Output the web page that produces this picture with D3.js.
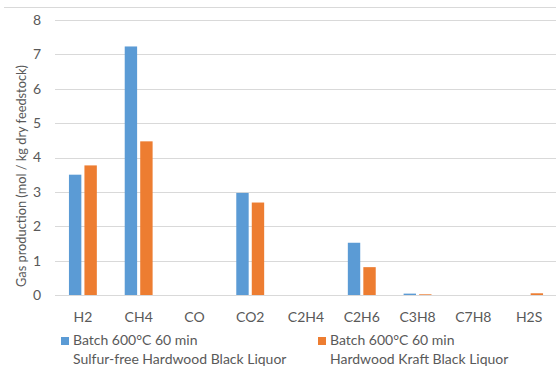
<!DOCTYPE html>
<html><head><meta charset="utf-8">
<script src="https://cdn.jsdelivr.net/npm/d3@7"></script>
<style>body{margin:0;background:#fff}svg{display:block;font-family:Lato,"Open Sans",sans-serif}</style>
</head><body><svg id="c" width="556" height="369"></svg>
<script>
const categories = ["H2","CH4","CO","CO2","C2H4","C2H6","C3H8","C7H8","H2S"];
const seriesNames = ["Batch 600°C 60 min|Sulfur-free Hardwood Black Liquor","Batch 600°C 60 min|Hardwood Kraft Black Liquor"];
const sulfurFree = [3.5, 7.23, 0, 2.97, 0, 1.52, 0.04, 0, 0];
const kraft = [3.77, 4.47, 0, 2.69, 0, 0.81, 0.02, 0, 0.05];
const yTicks = [0,1,2,3,4,5,6,7,8];
const colors = ["#5B9BD5","#ED7D31"];
const seriesValues = [sulfurFree, kraft];

const svg = d3.select("#c");
const m = {left:55, right:556, top:20, bottom:295};
const x0 = d3.scaleBand().domain(categories).range([m.left, 557]).paddingInner(0).paddingOuter(0);
const bw = x0.bandwidth();
const x1 = d3.scaleBand().domain([0,1]).range([bw*0.25, bw*0.75]).paddingInner(0.2);
const y = d3.scaleLinear().domain([0,8]).range([m.bottom, m.top]);

// top border line
svg.append("line").attr("x1",4).attr("x2",556).attr("y1",7.5).attr("y2",7.5).attr("stroke","#D9D9D9");

// gridlines
const yAxis = d3.axisLeft(y).tickValues(yTicks).tickSize(-(556-m.left)).tickPadding(14).tickFormat(d3.format("d"));
const ga = svg.append("g").attr("transform",`translate(${m.left},0)`).call(yAxis);
ga.select(".domain").remove();
ga.selectAll(".tick line").attr("stroke","#D9D9D9").attr("shape-rendering","crispEdges");
ga.selectAll(".tick text").attr("fill","#595959").attr("font-size","14px").attr("font-family","Lato,'Open Sans',sans-serif");

// bars
categories.forEach((c,i)=>{
  seriesValues.forEach((vals,s)=>{
    const v = vals[i];
    svg.append("rect")
      .attr("x", x0(c)+x1(s))
      .attr("width", x1.bandwidth())
      .attr("y", y(v))
      .attr("height", y(0)-y(v))
      .attr("fill", colors[s]);
  });
});

// x axis
const xAxis = d3.axisBottom(x0).tickSize(0).tickPadding(17);
const gx = svg.append("g").attr("transform",`translate(0,${m.bottom})`).call(xAxis);
gx.select(".domain").remove();
gx.selectAll(".tick text").attr("fill","#595959").attr("font-size","14px").attr("font-family","Lato,'Open Sans',sans-serif");
svg.append("line").attr("x1",m.left).attr("x2",556).attr("y1",m.bottom+0.5).attr("y2",m.bottom+0.5).attr("stroke","#D9D9D9");

// y title
svg.append("text").attr("transform","translate(26,176) rotate(-90)").attr("text-anchor","middle")
  .attr("fill","#595959").attr("font-size","12.8px").text("Gas production (mol / kg dry feedstock)");

// legend
const legX = [61, 318];
seriesNames.forEach((n,s)=>{
  const g = svg.append("g");
  g.append("rect").attr("x",legX[s]).attr("y",337).attr("width",8).attr("height",8).attr("fill",colors[s]);
  const lines = n.split("|");
  lines.forEach((t,k)=>{
    g.append("text").attr("x",legX[s]+12).attr("y",345+k*18.5).attr("fill","#595959").attr("font-size","14px").text(t);
  });
});
</script></body></html>
